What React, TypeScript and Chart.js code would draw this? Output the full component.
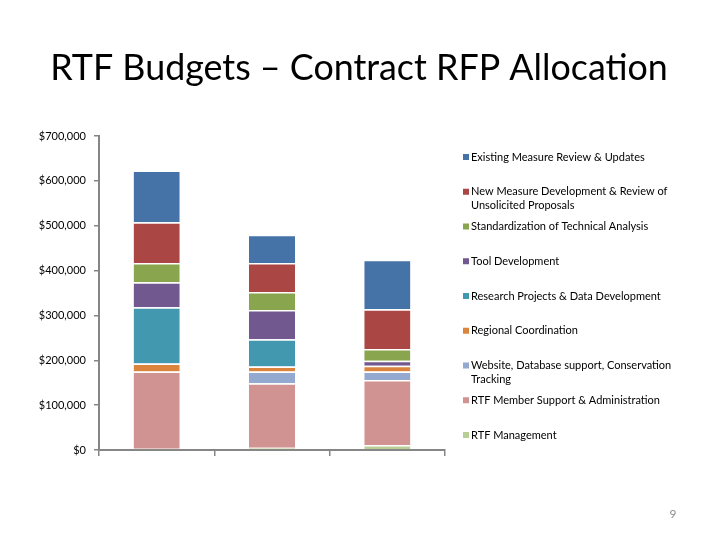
import React, { useEffect, useRef } from 'react';
import { Chart, registerables } from 'chart.js';

Chart.register(...registerables);

// x categories carry no visible labels in the slide
const categories = ['', '', ''];

// stacked from the bottom up
const seriesNames = [
  'RTF Management',
  'RTF Member Support & Administration',
  'Website, Database support, Conservation Tracking',
  'Regional Coordination',
  'Research Projects & Data Development',
  'Tool Development',
  'Standardization of Technical Analysis',
  'New Measure Development & Review of Unsolicited Proposals',
  'Existing Measure Review & Updates',
];

const rtfManagement = [3000, 5000, 11000];
const memberSupport = [172000, 144000, 145000];
const websiteSupport = [0, 26000, 19000];
const regionalCoordination = [18000, 11000, 13000];
const researchProjects = [125000, 61000, 0];
const toolDevelopment = [56000, 65000, 11000];
const standardization = [43000, 40000, 26000];
const newMeasure = [91000, 65000, 89000];
const existingMeasure = [115000, 63000, 110000];

const seriesValues = [
  rtfManagement,
  memberSupport,
  websiteSupport,
  regionalCoordination,
  researchProjects,
  toolDevelopment,
  standardization,
  newMeasure,
  existingMeasure,
];

const seriesColors = [
  '#B9CD96',
  '#D19392',
  '#93A9CF',
  '#DB843D',
  '#4198AF',
  '#71588F',
  '#89A54E',
  '#AA4643',
  '#4572A7',
];

const titleText = 'RTF Budgets \u2013 Contract RFP Allocation';
const pageNumber = '9';
const FONT = 'Lato, "Open Sans", sans-serif';

// draws slide title, page number and the wrapped right-hand legend
const slidePlugin = {
  id: 'slideDecor',
  afterDraw(chart: Chart) {
    const ctx = chart.ctx;
    ctx.save();

    // title, fitted to the width it takes on the slide
    let size = 36;
    ctx.font = `${size}px ${FONT}`;
    const w = ctx.measureText(titleText).width;
    size = Math.min(40, (size * 618) / w);
    ctx.font = `${size}px ${FONT}`;
    ctx.fillStyle = '#000';
    ctx.textAlign = 'center';
    ctx.textBaseline = 'middle';
    ctx.fillText(titleText, 359, 68);

    // page number
    ctx.font = `12px ${FONT}`;
    ctx.fillStyle = '#8C8C8C';
    ctx.fillText(pageNumber, 673, 514);

    // legend
    ctx.font = `11px ${FONT}`;
    ctx.textAlign = 'left';
    const maxW = 222;
    const n = chart.data.datasets.length;
    for (let k = 0; k < n; k++) {
      const ds = chart.data.datasets[n - 1 - k];
      const y = 157 + k * 34.75;
      ctx.fillStyle = ds.backgroundColor as string;
      ctx.fillRect(463, y - 3, 6, 6);
      const words = String(ds.label).split(' ');
      const lines: string[] = [];
      let cur = '';
      for (const wd of words) {
        const test = cur ? cur + ' ' + wd : wd;
        if (ctx.measureText(test).width > maxW && cur) {
          lines.push(cur);
          cur = wd;
        } else {
          cur = test;
        }
      }
      lines.push(cur);
      ctx.fillStyle = '#000';
      lines.forEach((ln, i) => ctx.fillText(ln, 471, y + i * 14));
    }
    ctx.restore();
  },
};

const App: React.FC = () => {
  const canvasRef = useRef<HTMLCanvasElement>(null);
  const chartRef = useRef<Chart | null>(null);

  useEffect(() => {
    const ctx = canvasRef.current?.getContext('2d');
    if (!ctx) return;
    if (chartRef.current) chartRef.current.destroy();

    chartRef.current = new Chart(ctx, {
      type: 'bar',
      data: {
        labels: categories,
        datasets: seriesNames.map((name, i) => ({
          label: name,
          data: seriesValues[i],
          backgroundColor: seriesColors[i],
          borderColor: '#FFFFFF',
          borderWidth: { top: 1.5, bottom: 0, left: 0, right: 0 },
          borderSkipped: false,
          barPercentage: 0.4,
          categoryPercentage: 1,
        })),
      },
      options: {
        responsive: false,
        animation: false,
        layout: { padding: { top: 136, right: 275, left: 0, bottom: 0 } },
        plugins: {
          legend: { display: false },
          title: { display: false },
          tooltip: { enabled: false },
        },
        scales: {
          x: {
            stacked: true,
            afterFit: (scale: any) => {
              scale.height = 90;
            },
            grid: {
              offset: true,
              drawOnChartArea: false,
              drawTicks: true,
              tickLength: 6,
              color: '#868686',
              lineWidth: 1.5,
            },
            border: { color: '#868686', width: 2 },
            ticks: { display: false },
          },
          y: {
            stacked: true,
            min: 0,
            max: 700000,
            afterFit: (scale: any) => {
              scale.width = 99;
            },
            grid: {
              drawOnChartArea: false,
              drawTicks: true,
              tickLength: 5,
              color: '#868686',
              lineWidth: 1.5,
            },
            border: { color: '#868686', width: 2 },
            ticks: {
              stepSize: 100000,
              padding: 8,
              color: '#000',
              font: { family: FONT, size: 11 },
              callback: (v: string | number) => '$' + Number(v).toLocaleString('en-US'),
            },
          },
        },
      },
      plugins: [slidePlugin],
    });

    return () => {
      if (chartRef.current) {
        chartRef.current.destroy();
        chartRef.current = null;
      }
    };
  }, []);

  return (
    <div style={{ position: 'fixed', left: 0, top: 0, width: 720, height: 540, background: '#fff' }}>
      <canvas ref={canvasRef} width={720} height={540} />
    </div>
  );
};

export default App;
